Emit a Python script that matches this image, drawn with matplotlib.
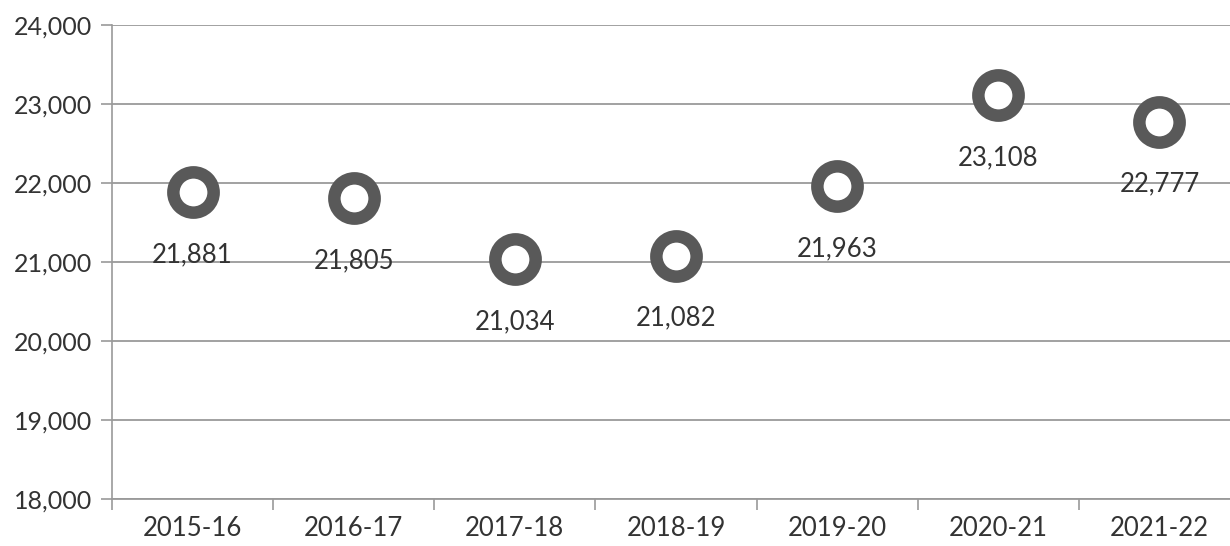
import matplotlib
matplotlib.use("Agg")
import matplotlib.pyplot as plt
from matplotlib.ticker import FuncFormatter, FixedLocator

years = ["2015-16", "2016-17", "2017-18", "2018-19", "2019-20", "2020-21", "2021-22"]
values = [21881, 21805, 21034, 21082, 21963, 23108, 22777]
y_ticks = [18000, 19000, 20000, 21000, 22000, 23000, 24000]

RING = "#595959"
GRID = "#9a9a9a"
TEXT = "#333333"

plt.rcParams["font.family"] = ["Lato", "DejaVu Sans"]

fig = plt.figure(figsize=(12.3, 5.46), dpi=100)
ax = fig.add_axes([112 / 1230, 47 / 546, 1128 / 1230, 474 / 546])

x = list(range(len(years)))
ax.plot(x, values, linestyle="none", marker="o", ms=29, mew=9,
        mfc="white", mec=RING, zorder=3)
for xi, v in zip(x, values):
    ax.annotate(f"{v:,}", (xi, v), xytext=(0, -45), textcoords="offset points",
                ha="center", va="center", fontsize=18.5, color=TEXT, zorder=4)

ax.set_xlim(-0.5, len(years) - 0.5)
ax.set_ylim(18000, 24000)
ax.set_yticks(y_ticks)
ax.yaxis.set_major_formatter(FuncFormatter(lambda v, p: f"{int(v):,}"))
ax.set_xticks(x)
ax.set_xticklabels(years)
ax.xaxis.set_minor_locator(FixedLocator([i - 0.5 for i in range(len(years) + 1)]))
ax.tick_params(axis="x", which="major", length=0, pad=12, labelsize=18.5, labelcolor=TEXT)
ax.tick_params(axis="x", which="minor", length=8, color=GRID, width=1.2)
ax.tick_params(axis="y", length=8, color=GRID, width=1.2, pad=6, labelsize=18, labelcolor=TEXT)

ax.grid(True, axis="y", color=GRID, linewidth=1.3)
ax.set_axisbelow(True)
for s in ("top", "right"):
    ax.spines[s].set_visible(False)
ax.spines["left"].set_color(GRID)
ax.spines["left"].set_linewidth(1.2)
ax.spines["bottom"].set_color(GRID)
ax.spines["bottom"].set_linewidth(1.3)

fig.savefig("out.png", dpi=100)
